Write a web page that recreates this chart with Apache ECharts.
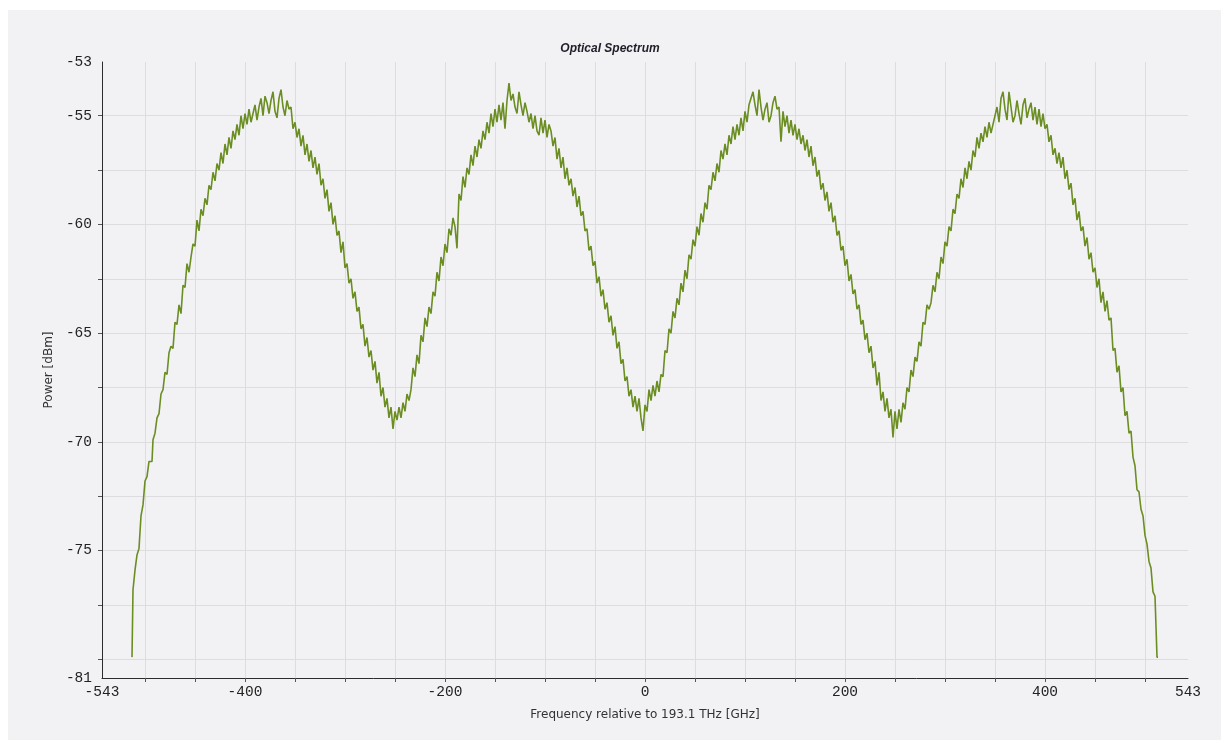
<!DOCTYPE html>
<html>
<head>
<meta charset="utf-8">
<script src="https://cdn.jsdelivr.net/npm/echarts@6/dist/echarts.min.js"></script>
<style>
  html, body { margin: 0; padding: 0; background: #ffffff; }
  #chart { position: absolute; left: 8px; top: 10px; width: 1213px; height: 730px; }
</style>
</head>
<body>
<div id="chart"></div>
<script>
// Titles
const chartTitle = 'Optical Spectrum';
const xAxisTitle = 'Frequency relative to 193.1 THz [GHz]';
const yAxisTitle = 'Power [dBm]';

// Axis extents and tick positions
const freqRange = [-543, 543];
const powerRange = [-80.86, -52.53];
const freqLabelValues = [-543, -400, -200, 0, 200, 400, 543];
const freqGridValues = [-500, -450, -400, -350, -300, -250, -200, -150, -100, -50, 0,
                        50, 100, 150, 200, 250, 300, 350, 400, 450, 500];
const powerLabelValues = [-80.86, -75, -70, -65, -60, -55, -52.53];
const powerGridValues = [-80, -77.5, -75, -72.5, -70, -67.5, -65, -62.5, -60, -57.5, -55];

// Spectrum samples: first frequency and spacing of the analyser grid (GHz)
const freqStartGHz = -513;
const freqStepGHz = 2;

// Measured power per sample (dBm)
const powerDbm = [
  -79.9, -76.8, -75.9, -75.2, -74.9, -73.4, -72.9, -71.8, -71.6, -70.9,
  -70.9, -69.9, -69.6, -68.9, -68.7, -67.8, -67.6, -66.8, -66.9, -65.9,
  -65.6, -65.7, -64.5, -64.6, -63.7, -64.1, -62.8, -62.9, -61.8, -62.2,
  -61.5, -60.9, -61.0, -59.8, -60.3, -59.3, -59.6, -58.8, -59.1, -58.2,
  -58.4, -57.6, -58.0, -57.2, -57.5, -56.7, -57.2, -56.3, -56.8, -56.0,
  -56.5, -55.7, -56.1, -55.4, -55.9, -55.0, -55.6, -54.9, -55.4, -54.7,
  -55.3, -54.9, -54.5, -55.2, -54.6, -54.2, -55.0, -54.1, -54.4, -54.9,
  -54.3, -53.9, -54.8, -55.1, -54.2, -53.8, -54.6, -55.0, -54.3, -54.7,
  -54.6, -55.6, -55.3, -56.0, -55.6, -56.4, -55.9, -56.8, -56.3, -57.1,
  -56.6, -57.4, -56.9, -57.7, -57.2, -58.2, -57.9, -58.8, -58.4, -59.4,
  -59.0, -60.0, -59.6, -60.5, -60.3, -61.3, -60.8, -62.0, -61.8, -62.7,
  -62.5, -63.4, -63.1, -64.0, -63.8, -64.8, -64.6, -65.6, -65.2, -66.1,
  -65.8, -66.7, -66.3, -67.3, -66.8, -67.9, -67.5, -68.4, -68.0, -68.9,
  -68.4, -69.4, -68.6, -69.0, -68.4, -68.9, -68.2, -68.6, -67.8, -68.1,
  -67.6, -66.6, -67.0, -66.0, -66.4, -65.1, -65.4, -64.3, -64.7, -63.8,
  -64.1, -63.1, -63.3, -62.2, -62.6, -61.5, -61.9, -60.9, -61.3, -60.2,
  -60.5, -59.7, -60.1, -61.1, -58.6, -58.9, -57.8, -58.3, -57.4, -57.7,
  -56.8, -57.3, -56.4, -56.9, -56.1, -56.5, -55.7, -56.1, -55.3, -55.8,
  -54.9, -55.5, -54.7, -55.3, -54.5, -55.2, -54.4, -55.6, -54.3, -53.5,
  -54.3, -54.0, -54.6, -54.9, -53.9, -54.5, -55.0, -54.4, -54.8, -55.3,
  -54.9, -55.6, -55.0, -55.7, -55.9, -55.1, -55.8, -55.2, -56.0, -55.4,
  -55.7, -56.4, -56.0, -57.0, -56.5, -57.4, -56.9, -57.9, -57.4, -58.2,
  -57.9, -58.7, -58.3, -59.2, -58.7, -59.6, -59.4, -60.3, -60.2, -61.2,
  -61.0, -61.9, -61.7, -62.7, -62.4, -63.3, -63.0, -63.9, -63.6, -64.5,
  -64.2, -65.1, -64.7, -65.7, -65.4, -66.4, -66.2, -67.2, -67.0, -67.9,
  -67.6, -68.4, -67.9, -68.6, -68.0, -68.9, -69.5, -68.3, -68.6, -67.6,
  -68.1, -67.4, -67.9, -67.2, -67.7, -66.9, -67.0, -65.8, -65.9, -64.8,
  -65.0, -64.0, -64.3, -63.4, -63.7, -62.7, -63.1, -62.1, -62.5, -61.4,
  -61.6, -60.7, -61.0, -60.1, -60.5, -59.5, -59.9, -59.0, -59.3, -58.2,
  -58.4, -57.6, -58.0, -57.2, -57.6, -56.6, -57.0, -56.3, -56.8, -55.9,
  -56.3, -55.5, -56.1, -55.4, -55.9, -55.1, -55.7, -54.8, -55.3, -54.5,
  -54.2, -53.9, -54.5, -55.0, -53.8, -54.6, -55.2, -54.7, -54.4, -55.3,
  -55.0, -54.4, -54.1, -54.7, -54.6, -56.2, -54.8, -55.5, -55.0, -55.8,
  -55.2, -55.9, -55.4, -56.1, -55.6, -56.3, -55.9, -56.6, -56.1, -56.9,
  -56.4, -57.3, -56.9, -57.8, -57.5, -58.4, -58.1, -58.9, -58.5, -59.4,
  -59.0, -59.9, -59.6, -60.5, -60.3, -61.2, -61.0, -61.9, -61.6, -62.6,
  -62.3, -63.2, -63.0, -63.9, -63.7, -64.6, -64.4, -65.3, -65.0, -65.9,
  -65.6, -66.6, -66.3, -67.4, -66.8, -68.1, -67.7, -68.6, -68.0, -68.9,
  -68.5, -69.8, -68.6, -69.4, -68.5, -69.1, -68.2, -68.5, -67.5, -67.7,
  -66.7, -67.0, -66.1, -66.3, -65.4, -65.6, -64.5, -64.6, -63.7, -63.9,
  -63.6, -62.8, -63.1, -62.2, -62.5, -61.5, -61.8, -60.8, -61.0, -60.1,
  -60.3, -59.3, -59.5, -58.6, -58.8, -57.9, -58.3, -57.4, -57.9, -57.1,
  -57.5, -56.6, -56.9, -56.0, -56.5, -55.8, -56.2, -55.5, -56.0, -55.3,
  -55.8, -55.4, -55.0, -54.6, -55.3, -54.2, -53.9, -54.7, -55.2, -53.9,
  -54.6, -55.3, -55.0, -54.3, -54.9, -55.4, -54.5, -54.2, -55.1, -54.7,
  -54.4, -55.2, -54.6, -55.4, -54.7, -55.5, -54.9, -55.6, -55.4, -56.2,
  -55.9, -56.8, -56.5, -57.2, -56.7, -57.4, -56.9, -57.9, -57.5, -58.4,
  -58.1, -59.1, -58.8, -59.8, -59.4, -60.3, -60.1, -61.0, -60.6, -61.6,
  -61.3, -62.2, -62.0, -62.9, -62.5, -63.6, -63.1, -64.0, -63.5, -64.4,
  -64.3, -65.8, -65.7, -66.8, -66.5, -67.7, -67.5, -68.8, -68.6, -69.6,
  -69.5, -70.7, -71.1, -72.2, -72.3, -73.1, -73.4, -74.3, -74.7, -75.5,
  -75.8, -76.9, -77.1, -79.9
];

const spectrum = powerDbm.map((p, i) => [freqStartGHz + i * freqStepGHz, p]);

const panelColor = '#f2f1f4';
const gridColor = '#dddcdf';
const axisColor = '#2b2b2b';
const textColor = '#222222';
const traceColor = '#6b8e23';
const tickFont = { fontFamily: 'Liberation Mono', fontSize: 14.5, color: textColor };
const nameFont = { fontFamily: 'DejaVu Sans', fontSize: 12, color: '#333333' };

const chart = echarts.init(document.getElementById('chart'), null, { renderer: 'canvas' });

chart.setOption({
  animation: false,
  backgroundColor: panelColor,
  graphic: [{
    type: 'text',
    x: 602,
    y: 38.5,
    silent: true,
    style: {
      text: chartTitle,
      align: 'center',
      verticalAlign: 'middle',
      fontFamily: 'Liberation Sans',
      fontSize: 12,
      fontWeight: 'bold',
      fontStyle: 'italic',
      fill: '#1e1e28'
    }
  }],
  grid: {
    left: 94,
    right: 33,
    top: 52,
    bottom: 62,
    containLabel: false,
    outerBoundsMode: 'none'
  },
  xAxis: {
    type: 'value',
    min: freqRange[0],
    max: freqRange[1],
    name: xAxisTitle,
    nameLocation: 'middle',
    nameGap: 31,
    nameTextStyle: nameFont,
    axisLine: { show: true, onZero: false, lineStyle: { color: axisColor, width: 1 } },
    axisTick: {
      show: true,
      inside: false,
      length: 4,
      customValues: freqGridValues,
      lineStyle: { color: '#555555' }
    },
    axisLabel: {
      customValues: freqLabelValues,
      margin: 7,
      formatter: v => String(Math.round(v)),
      ...tickFont
    },
    splitLine: { show: true, lineStyle: { color: gridColor, width: 1 } }
  },
  yAxis: {
    type: 'value',
    min: powerRange[0],
    max: powerRange[1],
    name: yAxisTitle,
    nameLocation: 'middle',
    nameGap: 40,
    nameTextStyle: nameFont,
    axisLine: { show: true, onZero: false, lineStyle: { color: axisColor, width: 1 } },
    axisTick: {
      show: true,
      inside: false,
      length: 4,
      customValues: powerGridValues,
      lineStyle: { color: '#555555' }
    },
    axisLabel: {
      customValues: powerLabelValues,
      margin: 10,
      formatter: v => String(Math.round(v)),
      ...tickFont
    },
    splitLine: { show: true, lineStyle: { color: gridColor, width: 1 } }
  },
  series: [{
    type: 'line',
    data: spectrum,
    step: 'middle',
    showSymbol: false,
    symbol: 'none',
    silent: true,
    clip: true,
    lineStyle: { color: traceColor, width: 1.6 }
  }]
});
</script>
</body>
</html>
